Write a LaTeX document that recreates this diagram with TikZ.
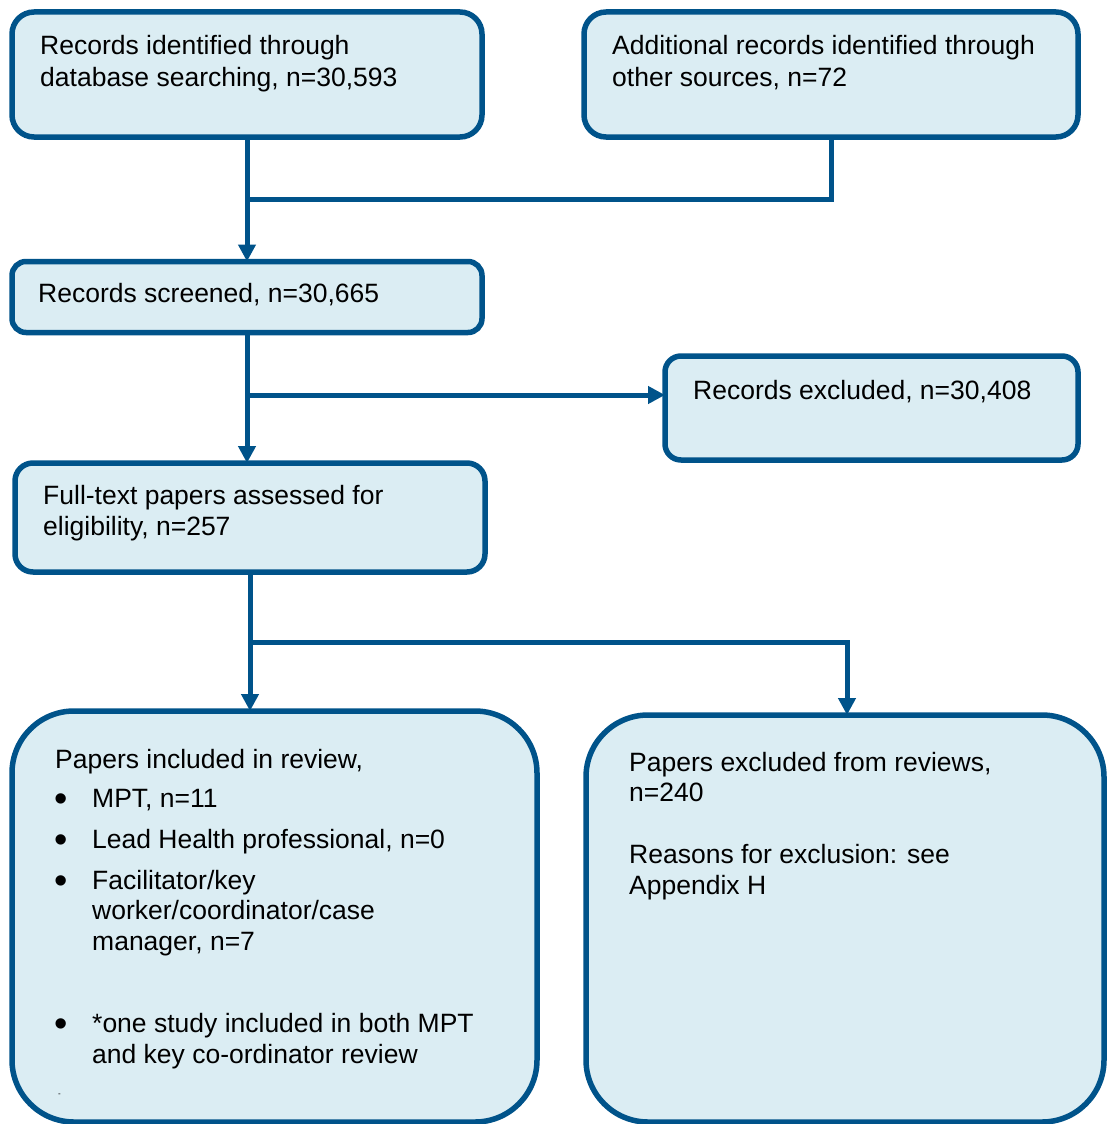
\documentclass[tikz,border=0pt]{standalone}
\usepackage{fontspec}
\setmainfont{Liberation Sans}
\usetikzlibrary{arrows.meta}
\definecolor{edgeblue}{RGB}{0,83,138}
\definecolor{boxfill}{RGB}{219,237,243}
\tikzset{
  box/.style={draw=edgeblue, fill=boxfill, line width=5.5pt, inner sep=0pt, outer sep=0pt},
  conn/.style={draw=edgeblue, line width=5pt},
  arr/.style={conn, -{Triangle[length=17pt,width=17pt]}},
  txt/.style={anchor=base west, inner sep=0pt, font=\fontsize{26.5}{31}\selectfont, text=black},
  bul/.style={anchor=base west, inner sep=0pt, font=\fontsize{38}{40}\selectfont, text=black},
}
\begin{document}
\begin{tikzpicture}[x=1pt,y=-1pt]
\useasboundingbox (0,0) rectangle (1107,1124);
% boxes
\node[box, rounded corners=22pt, minimum width=470pt, minimum height=125pt] (b1) at (247,74.5) {};
\node[box, rounded corners=22pt, minimum width=494pt, minimum height=125pt] (b2) at (831,74.5) {};
\node[box, rounded corners=14pt, minimum width=470pt, minimum height=71pt] (b3) at (247,297) {};
\node[box, rounded corners=16pt, minimum width=413pt, minimum height=104pt] (b5) at (871.5,408) {};
\node[box, rounded corners=18pt, minimum width=470pt, minimum height=109pt] (b4) at (250,517.5) {};
\node[box, rounded corners=62pt, minimum width=525pt, minimum height=411pt] (b6) at (274.5,916.5) {};
\node[box, rounded corners=62pt, minimum width=518pt, minimum height=407pt] (b7) at (845,918.5) {};
% texts
\node[txt] (t1a) at (40,55) {Records identified through};
\node[txt] (t1b) at (40,86) {database searching, n=30,593};
\node[txt] (t2a) at (612,55) {Additional records identified through};
\node[txt] (t2b) at (612,86) {other sources, n=72};
\node[txt] (t3) at (38,302) {Records screened, n=30,665};
\node[txt] (t5) at (693,399) {Records excluded, n=30,408};
\node[txt] (t4a) at (43,504) {Full-text papers assessed for};
\node[txt] (t4b) at (43,535) {eligibility, n=257};
\node[txt] (t6a) at (55,768) {Papers included in review,};
\node[bul] (u1) at (54.5,811) {•};
\node[txt] (t6b) at (92,807) {MPT, n=11};
\node[bul] (u2) at (54.5,852) {•};
\node[txt] (t6c) at (92,848) {Lead Health professional, n=0};
\node[bul] (u3) at (54.5,893) {•};
\node[txt] (t6d) at (92,889) {Facilitator/key};
\node[txt] (t6e) at (92,919) {worker/coordinator/case};
\node[txt] (t6f) at (92,950) {manager, n=7};
\node[bul] (u4) at (54.5,1036) {•};
\node[txt] (t6g) at (92,1032) {*one study included in both MPT};
\node[txt] (t6h) at (92,1063) {and key co-ordinator review};
\node[anchor=base west, inner sep=0pt, font=\fontsize{8}{9}\selectfont] (t6i) at (58,1096) {-};
\node[txt] (t7a) at (629,771) {Papers excluded from reviews,};
\node[txt] (t7b) at (629,801) {n=240};
\node[txt] (t7c) at (629,863) {Reasons for exclusion: see};
\node[txt] (t7d) at (629,894) {Appendix H};
% connectors
\coordinate (j1) at (247,199);
\coordinate (j2) at (247,395);
\coordinate (j3) at (250,642);
\coordinate (j4) at (847,642);
\draw[conn] (b2.south) |- (j1);
\draw[arr] (b1.south) -- (b3.north);
\draw[arr] (b3.south) -- (b3.south |- b4.north);
\draw[arr] (j2) -- (j2 -| b5.west);
\draw[arr] (b4.south) -- (b4.south |- b6.north);
\draw[arr] (j3) -- (j4) -- (j4 |- b7.north);
\end{tikzpicture}
\end{document}
